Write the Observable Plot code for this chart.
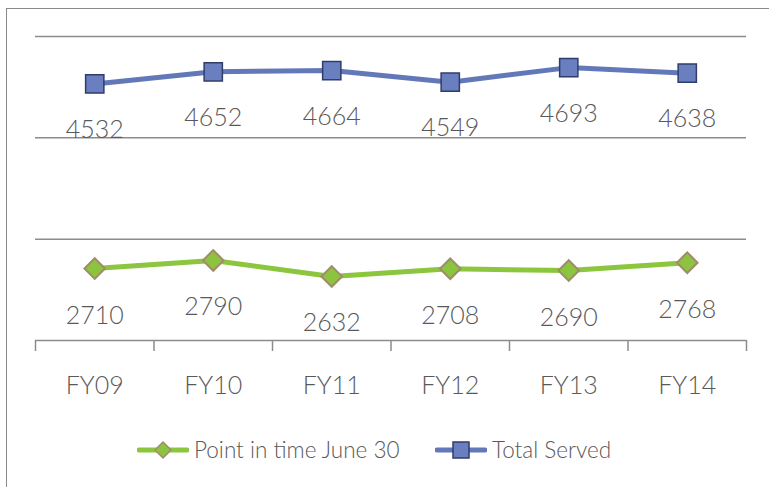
<!DOCTYPE html>
<html>
<head>
<meta charset="utf-8">
<script src="https://cdn.jsdelivr.net/npm/d3@7"></script>
<script src="https://cdn.jsdelivr.net/npm/@observablehq/plot@0.6"></script>
<style>
  html, body { margin: 0; padding: 0; background: #fff; }
  body { width: 769px; height: 487px; position: relative; overflow: hidden; font-family: Lato, "Liberation Sans", sans-serif; }
  #frame { position: absolute; left: 6px; top: 8px; width: 800px; height: 500px; border: 1.5px solid #8a8a8a; box-sizing: border-box; }
  #chart { position: absolute; left: 0; top: 0; }
  #legend { position: absolute; top: 436px; left: 0; width: 769px; font-size: 22.5px; font-weight: 300; color: #595959; }
  .item { display: flex; align-items: center; }
  .item span { margin-left: 5px; }
</style>
</head>
<body>
<div id="frame"></div>
<div id="chart"></div>
<div id="legend"></div>
<script>
const categories = ["FY09", "FY10", "FY11", "FY12", "FY13", "FY14"];
const totalServed = [4532, 4652, 4664, 4549, 4693, 4638];
const pointInTime = [2710, 2790, 2632, 2708, 2690, 2768];
const gridValues = [3000, 4000, 5000];
const seriesNames = ["Point in time June 30", "Total Served"];

const blueLine = "#6378b9", blueFill = "#6a7fbf", blueEdge = "#2f3d68";
const greenLine = "#8cc63e", greenFill = "#8cc43f", greenEdge = "#a08c6a";
const textColor = "#595959";

const blueData = categories.map((c, i) => ({i, c, v: totalServed[i]}));
const greenData = categories.map((c, i) => ({i, c, v: pointInTime[i]}));
const boundaries = d3.range(categories.length + 1).map(k => k - 0.5);

const chart = Plot.plot({
  width: 769,
  height: 420,
  marginLeft: 35,
  marginRight: 23,
  marginTop: 36,
  marginBottom: 80,
  style: {fontFamily: "Lato, 'Liberation Sans', sans-serif", fontWeight: 300, background: "transparent"},
  x: {type: "linear", domain: [-0.5, categories.length - 0.5], axis: null, label: null},
  y: {domain: [2000, 5000], axis: null},
  marks: [
    Plot.ruleY(gridValues, {stroke: "#8c8c8c", strokeWidth: 1.5}),
    Plot.ruleY([2000], {stroke: "#8c8c8c", strokeWidth: 1.5}),
    Plot.axisX({ticks: boundaries, tickFormat: () => "", tickSize: 11, stroke: "#8c8c8c", strokeWidth: 1.5, strokeOpacity: 1, label: null}),
    Plot.axisX({ticks: d3.range(categories.length), tickFormat: i => categories[i], tickSize: 0, tickPadding: 36, fontSize: 25, fill: textColor, label: null}),
    Plot.line(blueData, {x: "i", y: "v", stroke: blueLine, strokeWidth: 5}),
    Plot.dot(blueData, {x: "i", y: "v", symbol: "square", r: 10.3, fill: blueFill, stroke: blueEdge, strokeWidth: 1.5}),
    Plot.line(greenData, {x: "i", y: "v", stroke: greenLine, strokeWidth: 5}),
    Plot.dot(greenData, {x: "i", y: "v", symbol: "diamond2", r: 9.3, fill: greenFill, stroke: greenEdge, strokeWidth: 2}),
    Plot.text(blueData, {x: "i", y: "v", text: d => String(d.v), dy: 46, fontSize: 25, fill: textColor}),
    Plot.text(greenData, {x: "i", y: "v", text: d => String(d.v), dy: 47, fontSize: 25, fill: textColor})
  ]
});
document.getElementById("chart").appendChild(chart);

// legend
const legend = document.getElementById("legend");
const items = [
  {name: seriesNames[0], line: greenLine, fill: greenFill, edge: greenEdge, shape: "diamond", left: 137},
  {name: seriesNames[1], line: blueLine, fill: blueFill, edge: blueEdge, shape: "square", left: 435}
];
items.forEach(it => {
  const div = document.createElement("div");
  div.className = "item";
  div.style.position = "absolute";
  div.style.left = it.left + "px";
  div.style.top = "0px";
  const marker = it.shape === "diamond"
    ? `<path d="M26,5 L34,13 L26,21 L18,13 Z" fill="${it.fill}" stroke="${it.edge}" stroke-width="1.5"/>`
    : `<rect x="18" y="5" width="16" height="16" fill="${it.fill}" stroke="${it.edge}" stroke-width="1.5"/>`;
  div.innerHTML = `<svg width="52" height="26"><line x1="2" y1="13" x2="50" y2="13" stroke="${it.line}" stroke-width="5" stroke-linecap="round"/>${marker}</svg><span>${it.name}</span>`;
  legend.appendChild(div);
});
</script>
</body>
</html>
